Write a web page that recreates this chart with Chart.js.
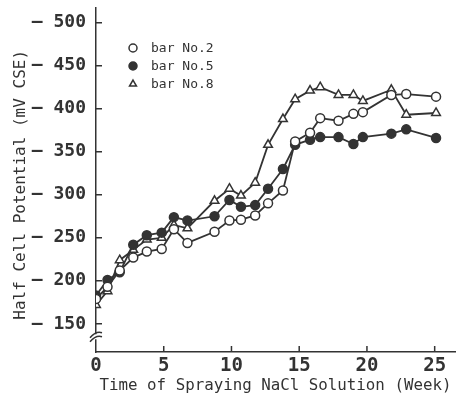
<!DOCTYPE html>
<html>
<head>
<meta charset="utf-8">
<script src="https://cdn.jsdelivr.net/npm/chart.js@4.4.0/dist/chart.umd.min.js"></script>
<style>
    html, body { margin: 0; padding: 0; background: #fff; }
    #wrap { width: 456px; height: 401px; }
</style>
</head>
<body>
<div id="wrap"><canvas id="myChart" width="456" height="401"></canvas></div>
<script>
// values (week, mV CSE)
const weeks = [0, 0.85, 1.75, 2.75, 3.75, 4.85, 5.75, 6.75, 8.75, 9.85, 10.7, 11.75, 12.7, 13.8, 14.7, 15.8, 16.55, 17.9, 19, 19.7, 21.8, 22.9, 25.1];
const bar2 = [179, 193, 212, 227, 234, 237, 260, 244, 257, 270, 271, 276, 290, 305, 362, 372, 389, 386, 394, 396, 416, 417, 414];
const bar5 = [183, 201, 210, 242, 253, 256, 274, 270, 275, 294, 286, 288, 307, 330, 358, 364, 367, 367, 359, 367, 371, 376, 366];
const bar8 = [172, 188, 224, 236, 248, 250, 265, 261, 293, 307, 299, 314, 358, 388, 411, 421, 425, 416, 416, 409, 422, 393, 395];
const seriesLabels = ["bar No.2", "bar No.5", "bar No.8"];
const xTicks = [0, 5, 10, 15, 20, 25];
const yTicks = [150, 200, 250, 300, 350, 400, 450, 500];

const ink = "#333";
const mono = "'DejaVu Sans Mono', monospace";

function toPoints(vals){
    return vals.map((v, i) => ({x: weeks[i], y: v}));
}

function series(label, vals, style, filled){
    return {
        label: label,
        data: toPoints(vals),
        borderColor: ink,
        borderWidth: 1.8,
        pointStyle: style,
        pointRadius: style === "triangle" ? 5 : 4.5,
        pointBorderWidth: 1.5,
        pointBorderColor: ink,
        pointBackgroundColor: filled ? ink : "#fff",
        tension: 0
    };
}

// inward ticks, axis break and in-plot legend
const decorations = {
    id: "decorations",
    afterDraw(chart){
        const ctx = chart.ctx;
        const xs = chart.scales.x, ys = chart.scales.y;
        const left = chart.chartArea.left, bottom = chart.chartArea.bottom;
        ctx.save();
        ctx.strokeStyle = ink;
        ctx.lineWidth = 1.5;
        ctx.beginPath();
        yTicks.forEach(v => {
            const y = ys.getPixelForValue(v);
            ctx.moveTo(left, y);
            ctx.lineTo(left + 6, y);
        });
        xTicks.slice(1).forEach(v => {
            const x = xs.getPixelForValue(v);
            ctx.moveTo(x, bottom);
            ctx.lineTo(x, bottom - 6);
        });
        ctx.stroke();

        // break mark on the y axis
        const by = ys.getPixelForValue(135);
        ctx.fillStyle = "#fff";
        ctx.fillRect(left - 3, by - 2.5, 6, 5);
        ctx.beginPath();
        ctx.moveTo(left - 6, by + 1);
        ctx.quadraticCurveTo(left, by - 6, left + 6, by - 4);
        ctx.moveTo(left - 6, by + 5);
        ctx.quadraticCurveTo(left, by - 2, left + 6, by);
        ctx.stroke();

        // legend
        ctx.font = "13px " + mono;
        ctx.textBaseline = "middle";
        chart.data.datasets.forEach((ds, i) => {
            const y = 48 + i * 18;
            ctx.strokeStyle = ink;
            ctx.fillStyle = ds.pointBackgroundColor;
            ctx.lineWidth = 1.5;
            Chart.helpers.drawPoint(ctx, {
                pointStyle: ds.pointStyle,
                radius: 4,
                borderWidth: 1.5
            }, 133, y);
            ctx.fillStyle = ink;
            ctx.fillText(ds.label, 151, y + 1);
        });
        ctx.restore();
    }
};

const ctx = document.getElementById("myChart");

new Chart(ctx, {
    type: "line",
    data: {
        datasets: [
            series(seriesLabels[0], bar2, "circle", false),
            series(seriesLabels[1], bar5, "circle", true),
            series(seriesLabels[2], bar8, "triangle", false)
        ]
    },
    options: {
        responsive: false,
        animation: false,
        layout: { autoPadding: false, padding: { top: 8, right: 1, left: 0, bottom: 0 } },
        plugins: {
            legend: { display: false },
            tooltip: { enabled: false }
        },
        scales: {
            x: {
                type: "linear",
                min: 0,
                max: 26.5,
                afterBuildTicks: s => { s.ticks = xTicks.map(v => ({value: v})); },
                afterFit: s => { s.height = 49; s.paddingLeft = 0; s.paddingRight = 0; },
                grid: { drawOnChartArea: false, drawTicks: false },
                border: { display: true, color: ink, width: 1.5 },
                ticks: {
                    color: ink,
                    font: { family: mono, size: 19, weight: "bold" },
                    padding: 3,
                    maxRotation: 0,
                    autoSkip: false
                },
                title: {
                    display: true,
                    text: "Time of Spraying NaCl Solution (Week)",
                    color: ink,
                    font: { family: mono, size: 15.8 },
                    padding: { top: 0, bottom: 6 }
                }
            },
            y: {
                min: 117.3,
                max: 517,
                afterBuildTicks: s => { s.ticks = yTicks.map(v => ({value: v})); },
                afterFit: s => { s.width = 96; s.paddingTop = 0; s.paddingBottom = 0; },
                grid: { drawOnChartArea: false, drawTicks: false },
                border: { display: true, color: ink, width: 1.5 },
                ticks: {
                    color: ink,
                    font: { family: mono, size: 18, weight: "bold" },
                    padding: 10,
                    callback: v => "\u2013 " + v
                },
                title: {
                    display: true,
                    text: "Half Cell Potential (mV CSE) ",
                    color: ink,
                    font: { family: mono, size: 16 },
                    padding: { top: 11, bottom: 0 }
                }
            }
        }
    },
    plugins: [decorations]
});
</script>
</body>
</html>
